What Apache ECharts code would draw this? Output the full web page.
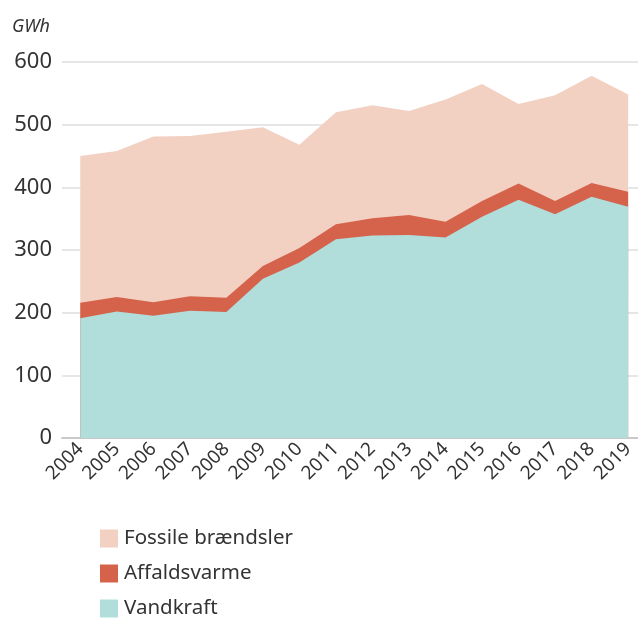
<!DOCTYPE html>
<html>
<head>
<meta charset="utf-8">
<script src="https://cdn.jsdelivr.net/npm/echarts@6/dist/echarts.min.js"></script>
<style>
  html, body { margin: 0; padding: 0; background: #fff; }
  #chart { width: 638px; height: 619px; }
</style>
</head>
<body>
<div id="chart"></div>
<script>
// år og værdier (GWh)
const years = [2004, 2005, 2006, 2007, 2008, 2009, 2010, 2011, 2012, 2013, 2014, 2015, 2016, 2017, 2018, 2019]
const vandkraft = [191, 202, 195, 203, 201, 254, 280, 317, 323, 324, 320, 353, 380, 357, 385, 369]
const affaldsvarme = [25, 23, 21.5, 23, 23, 20.5, 23, 24, 27.5, 32, 25, 25, 26, 21, 22, 24]
const fossile = [234, 233, 264.5, 256, 264.5, 221.5, 165, 179, 180.5, 166, 195, 187, 127, 169, 171, 155]
const yTicks = [0, 100, 200, 300, 400, 500, 600]

const font = 'Noto Sans'

// stablet manuelt: x-aksen er en value-akse, så ECharts' stack bruges ikke
const lvl1 = vandkraft
const lvl2 = lvl1.map((v, i) => v + affaldsvarme[i])
const lvl3 = lvl2.map((v, i) => v + fossile[i])
const pairs = (arr) => years.map((y, i) => [y, arr[i]])

function areaSeries(name, color, values) {
  return {
    name: name,
    type: 'line',
    showSymbol: false,
    lineStyle: { width: 0 },
    itemStyle: { color: color },
    areaStyle: { color: color, opacity: 1 },
    data: pairs(values),
  }
}

const myChart = echarts.init(document.getElementById('chart'))
myChart.setOption({
  animation: false,
  textStyle: { fontFamily: font },
  title: {
    text: 'GWh',
    left: 7,
    top: 13,
    textStyle: { fontSize: 18, fontStyle: 'italic', fontWeight: 'normal', color: '#333', fontFamily: font },
  },
  legend: {
    orient: 'vertical',
    left: 100,
    top: 528,
    height: 120,
    padding: 0,
    icon: 'rect',
    itemWidth: 18,
    itemHeight: 18,
    itemGap: 14,
    textStyle: { fontSize: 20.5, lineHeight: 18, color: '#333', fontFamily: font, padding: [0, 0, 0, 1] },
    data: ['Fossile brændsler', 'Affaldsvarme', 'Vandkraft'],
  },
  grid: {
    left: 62,
    right: 0,
    top: 62,
    bottom: 181,
  },
  xAxis: {
    type: 'value',
    min: 2003.5,
    max: 2019.27,
    splitLine: { show: false },
    axisTick: { show: false },
    axisLine: { show: true, onZero: false, lineStyle: { color: '#c9c9c9', width: 2 } },
    axisLabel: {
      customValues: years,
      rotate: 45,
      margin: 8,
      fontSize: 19,
      color: '#333',
      fontFamily: font,
      formatter: (v) => String(v),
    },
  },
  yAxis: {
    type: 'value',
    min: yTicks[0],
    max: yTicks[yTicks.length - 1],
    interval: 100,
    axisLine: { show: false },
    axisTick: { show: false },
    splitLine: { lineStyle: { color: '#e6e6e6', width: 2 } },
    axisLabel: { fontSize: 22, color: '#333', margin: 10, fontFamily: font },
  },
  series: [
    areaSeries('Fossile brændsler', '#f2d1c3', lvl3),
    areaSeries('Affaldsvarme', '#d5634b', lvl2),
    areaSeries('Vandkraft', '#b1dedb', lvl1),
  ],
})
</script>
</body>
</html>
